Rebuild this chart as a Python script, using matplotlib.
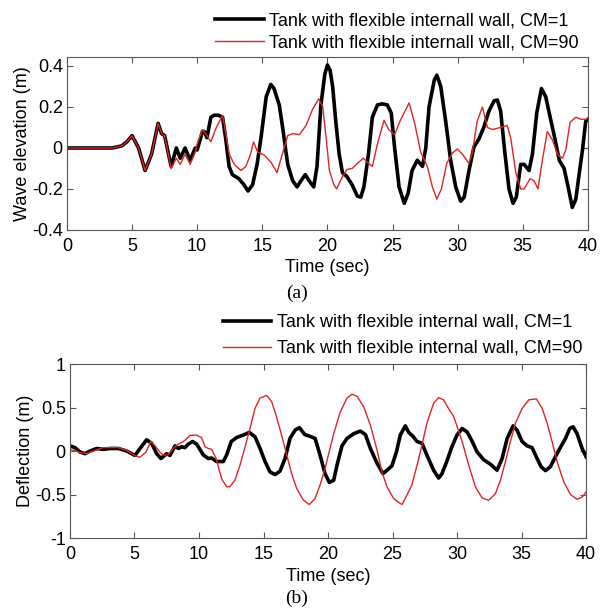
import numpy as np
import matplotlib
matplotlib.use("Agg")
import matplotlib.pyplot as plt

plt.rcParams['font.family'] = ['Liberation Sans', 'DejaVu Sans']

# (a) wave elevation
t_wave_cm1 = [0, 1, 2, 3, 3.5, 4.2, 4.6, 5.0, 5.5, 6.0, 6.5, 7.0, 7.27, 7.5, 8.0, 8.4, 8.7, 9.07,
              9.46, 9.85, 10.0, 10.4, 10.55, 10.75, 11.05, 11.3, 11.6, 11.95, 12.2, 12.45, 12.7, 13.2,
              13.6, 13.9, 14.25, 14.6, 14.9, 15.3, 15.65, 15.9, 16.3, 16.56, 16.95, 17.33, 17.67,
              17.97, 18.3, 18.6, 18.95, 19.2, 19.5, 19.8, 20.0, 20.2, 20.4, 20.64, 20.9, 21.15, 21.5,
              21.9, 22.3, 22.56, 22.8, 23.15, 23.45, 23.84, 24.2, 24.6, 24.9, 25.16, 25.5, 25.9,
              26.2, 26.5, 26.9, 27.3, 27.55, 27.8, 28.2, 28.4, 28.7, 29.08, 29.46, 29.85, 30.23,
              30.5, 30.87, 31.25, 31.64, 32.0, 32.4, 32.8, 33.05, 33.3, 33.6, 33.94, 34.25, 34.5,
              34.84, 35.1, 35.48, 35.74, 36.07, 36.43, 36.76, 37.1, 37.45, 37.8, 38.17, 38.48,
              38.8, 39.07, 39.3, 39.58, 39.83, 40.0]
wave_cm1 = [0, 0, 0, 0, 0.0, 0.01, 0.03, 0.06, 0.0, -0.11, -0.03, 0.12, 0.07, 0.06, -0.09, 0.0, -0.05, 0.0,
            -0.06, 0.0, -0.01, 0.08, 0.08, 0.05, 0.15, 0.16, 0.16, 0.15, 0.04, -0.09, -0.13, -0.15,
            -0.18, -0.21, -0.18, -0.08, 0.05, 0.25, 0.31, 0.29, 0.21, 0.10, -0.08, -0.16, -0.19,
            -0.16, -0.13, -0.16, -0.19, -0.09, 0.21, 0.36, 0.405, 0.38, 0.30, 0.13, -0.03, -0.12, -0.14,
            -0.18, -0.235, -0.24, -0.19, -0.03, 0.15, 0.21, 0.215, 0.21, 0.17, 0.0, -0.19, -0.27,
            -0.22, -0.11, -0.06, -0.09, 0.0, 0.2, 0.33, 0.355, 0.30, 0.13, -0.06, -0.19, -0.26,
            -0.24, -0.11, 0.005, 0.045, 0.1, 0.18, 0.23, 0.234, 0.18, -0.01, -0.2, -0.27, -0.24,
            -0.08, -0.08, -0.11, -0.03, 0.17, 0.29, 0.25, 0.15, 0.05, -0.06, -0.1, -0.19,
            -0.29, -0.25, -0.14, -0.01, 0.13, 0.14]

t_wave_cm90 = [0, 1, 2, 3, 3.5, 4.2, 4.6, 5.0, 5.5, 6.0, 6.5, 7.0, 7.27, 7.5, 8.0, 8.4, 8.7, 9.07,
               9.46, 9.85, 10.0, 10.4, 10.75, 11.05, 11.4, 11.95, 12.2, 12.46, 12.85, 13.36, 13.74,
               14.1, 14.33, 14.64, 15.15, 15.67, 16.13, 16.4, 16.95, 17.33, 17.85, 18.36, 18.87,
               19.33, 19.64, 19.9, 20.15, 20.5, 20.7, 21.15, 21.5, 21.9, 22.3, 22.76, 23.07, 23.45,
               23.84, 24.35, 24.7, 25.16, 25.6, 26.27, 26.7, 27.16, 27.67, 28.06, 28.4, 28.75,
               29.16, 29.6, 29.97, 30.36, 30.87, 31.1, 31.5, 31.9, 32.28, 32.66, 33.3, 33.8, 34.07,
               34.46, 34.84, 35.1, 35.56, 35.86, 36.17, 36.5, 36.88, 37.27, 37.66, 38.04, 38.3,
               38.63, 39.07, 39.45, 39.83, 40.0]
wave_cm90 = [0, 0, 0, 0, 0.0, 0.01, 0.03, 0.06, 0.0, -0.11, -0.03, 0.12, 0.07, 0.06, -0.1, -0.05, -0.08, -0.03,
             -0.08, -0.02, 0.02, 0.09, 0.06, 0.03, 0.09, 0.16, 0.07, -0.03, -0.08, -0.11, -0.09,
             -0.03, 0.03, -0.02, -0.035, -0.07, -0.12, -0.06, 0.06, 0.07, 0.065, 0.11, 0.19,
             0.24, 0.2, 0.05, -0.11, -0.18, -0.2, -0.14, -0.105, -0.1, -0.075, -0.05, -0.07, -0.09,
             0.02, 0.135, 0.09, 0.065, 0.135, 0.22, 0.12, -0.02, -0.09, -0.19, -0.25, -0.2,
             -0.075, -0.025, -0.005, -0.03, -0.075, -0.03, 0.13, 0.2, 0.1, 0.09, 0.1, 0.11, 0.05,
             -0.12, -0.2, -0.2, -0.15, -0.16, -0.2, -0.06, 0.08, 0.04, -0.03, -0.05, -0.01,
             0.125, 0.15, 0.14, 0.14, 0.145]

# (b) wall deflection
t_defl_cm1 = [0, 0.39, 0.78, 1.16, 1.55, 2.07, 2.58, 3.1, 3.75, 4.4, 5.04, 5.43, 5.94, 6.33, 6.72,
              7.05, 7.5, 7.75, 8.14, 8.4, 8.66, 8.9, 9.17, 9.5, 9.82, 10.34, 10.72, 10.98, 11.37,
              11.89, 12.14, 12.5, 12.9, 13.44, 13.9, 14.34, 14.73, 15.12, 15.5, 15.9, 16.28, 16.67,
              17.05, 17.44, 17.78, 18.2, 18.6, 19.0, 19.38, 19.77, 20.1, 20.44, 20.7, 21.08, 21.47,
              21.99, 22.5, 22.9, 23.28, 23.8, 24.26, 24.57, 24.95, 25.3, 25.6, 25.99, 26.25, 26.58,
              26.9, 27.28, 27.66, 28.18, 28.57, 28.83, 29.2, 29.6, 29.99, 30.39, 30.78, 31.16,
              31.55, 32.07, 32.58, 33.1, 33.49, 33.88, 34.34, 34.65, 35.04, 35.43, 35.81, 36.2,
              36.51, 36.85, 37.23, 37.62, 38.0, 38.4, 38.73, 38.99, 39.3, 39.69, 40.0]
defl_cm1 = [0.06, 0.04, -0.01, -0.03, 0.0, 0.03, 0.02, 0.03, 0.03, 0.0, -0.05, 0.03, 0.13, 0.09, -0.03,
            -0.085, -0.03, -0.05, 0.06, 0.03, 0.05, 0.04, 0.08, 0.11, 0.08, -0.045, -0.085, -0.08, -0.12,
            -0.12, -0.045, 0.11, 0.155, 0.185, 0.215, 0.165, 0.03, -0.12, -0.24, -0.27, -0.23, -0.085,
            0.145, 0.24, 0.27, 0.19, 0.17, 0.145, -0.045, -0.26, -0.36, -0.335, -0.16, 0.06, 0.145,
            0.2, 0.23, 0.19, 0.03, -0.14, -0.26, -0.22, -0.17, -0.01, 0.185, 0.29, 0.215, 0.17,
            0.11, 0.09, -0.045, -0.22, -0.31, -0.26, -0.12, 0.05, 0.185, 0.26, 0.22, 0.115,
            -0.01, -0.1, -0.15, -0.22, -0.085, 0.145, 0.29, 0.24, 0.11, 0.06, 0.04, -0.085,
            -0.18, -0.225, -0.18, -0.065, 0.04, 0.145, 0.26, 0.28, 0.2, 0.03, -0.065]

t_defl_cm90 = [0, 0.78, 1.3, 1.8, 2.58, 3.75, 4.4, 5.04, 5.43, 5.9, 6.25, 6.6, 6.98, 7.23, 7.6, 8.0,
               8.4, 8.8, 9.3, 9.8, 10.2, 10.47, 10.72, 10.98, 11.32, 11.76, 12.14, 12.4, 12.8,
               13.18, 13.57, 13.95, 14.34, 14.73, 15.25, 15.63, 16.0, 16.4, 16.8, 17.18, 17.57,
               18.1, 18.55, 19.0, 19.38, 19.77, 20.1, 20.44, 20.95, 21.47, 21.86, 22.25, 22.76,
               23.28, 23.8, 24.18, 24.57, 25.08, 25.47, 25.73, 26.1, 26.5, 26.9, 27.28, 27.66,
               28.18, 28.57, 28.95, 29.34, 29.73, 30.1, 30.39, 30.9, 31.42, 31.94, 32.45, 32.97,
               33.36, 33.75, 34.13, 34.52, 35.04, 35.56, 36.15, 36.6, 36.98, 37.36, 37.75, 38.27,
               38.79, 39.3, 39.69, 40.0]
defl_cm90 = [0.02, -0.015, -0.03, 0.0, 0.04, 0.04, 0.01, -0.055, -0.07, -0.01, 0.11, 0.06, -0.015, -0.045, -0.045, 0.03,
             0.08, 0.11, 0.18, 0.185, 0.155, 0.05, 0.03, 0.02, -0.085, -0.32, -0.41, -0.41, -0.33,
             -0.16, 0.05, 0.26, 0.49, 0.61, 0.64, 0.57, 0.4, 0.185, -0.045, -0.26, -0.43,
             -0.565, -0.615, -0.545, -0.39, -0.2, 0.0, 0.2, 0.45, 0.61, 0.655, 0.63, 0.51,
             0.3, 0.01, -0.24, -0.41, -0.545, -0.59, -0.615, -0.51, -0.39, -0.16, 0.07, 0.32,
             0.55, 0.615, 0.59, 0.49, 0.4, 0.24, 0.11, -0.16, -0.41, -0.54, -0.565, -0.49,
             -0.335, -0.12, 0.11, 0.32, 0.49, 0.59, 0.6, 0.49, 0.32, 0.11, -0.12, -0.355,
             -0.5, -0.555, -0.53, -0.47]

labels_a = ['Tank with flexible internall wall, CM=1', 'Tank with flexible internall wall, CM=90']
labels_b = ['Tank with flexible internal wall, CM=1', 'Tank with flexible internal wall, CM=90']

RED = '#e02424'
FS = 13

fig = plt.figure(figsize=(6.03, 6.10), dpi=100)
ax1 = fig.add_axes([0.111, 0.623, 0.864, 0.284])
ax2 = fig.add_axes([0.116, 0.118, 0.856, 0.285])


def style(ax, ylim, yticks, ylabel):
    ax.set_xlim(0, 40)
    ax.set_ylim(*ylim)
    ax.set_xticks(np.arange(0, 41, 5))
    ax.set_yticks(yticks)
    ax.tick_params(direction='in', top=True, right=True, labelsize=FS, length=4,
                   color='#555555')
    ax.tick_params(axis='x', pad=6)
    ax.tick_params(axis='y', pad=3)
    for s in ax.spines.values():
        s.set_color('#555555')
        s.set_linewidth(0.8)
    ax.set_xlabel('Time (sec)', fontsize=FS, labelpad=3)
    ax.set_ylabel(ylabel, fontsize=FS, labelpad=1)


l1, = ax1.plot(t_wave_cm1, wave_cm1, color='black', lw=2.6)
l2, = ax1.plot(t_wave_cm90, wave_cm90, color=RED, lw=1.0)
style(ax1, (-0.4, 0.445), [-0.4, -0.2, 0, 0.2, 0.4], 'Wave elevation (m)')
ax1.set_yticklabels(['-0.4', '-0.2', '0', '0.2', '0.4'])
ax1.legend([l1, l2], labels_a, loc='lower right', bbox_to_anchor=(1.0, 0.98), frameon=False,
           fontsize=FS, handlelength=2.7, handletextpad=0.3, labelspacing=0.25, borderpad=0)

m1, = ax2.plot(t_defl_cm1, defl_cm1, color='black', lw=2.6)
m2, = ax2.plot(t_defl_cm90, defl_cm90, color=RED, lw=1.0)
style(ax2, (-1, 1), [-1, -0.5, 0, 0.5, 1], 'Deflection (m)')
ax2.set_yticklabels(['-1', '-0.5', '0', '0.5', '1'])
ax2.legend([m1, m2], labels_b, loc='lower right', bbox_to_anchor=(1.01, 0.99), frameon=False,
           fontsize=FS, handlelength=2.7, handletextpad=0.3, labelspacing=0.5, borderpad=0)

fig.text(0.492, 1 - 293 / 610, '(a)', fontsize=14, family='Liberation Serif',
         ha='center', va='center')
fig.text(0.492, 1 - 598 / 610, '(b)', fontsize=14, family='Liberation Serif',
         ha='center', va='center')

fig.savefig('out.png', dpi=100)
